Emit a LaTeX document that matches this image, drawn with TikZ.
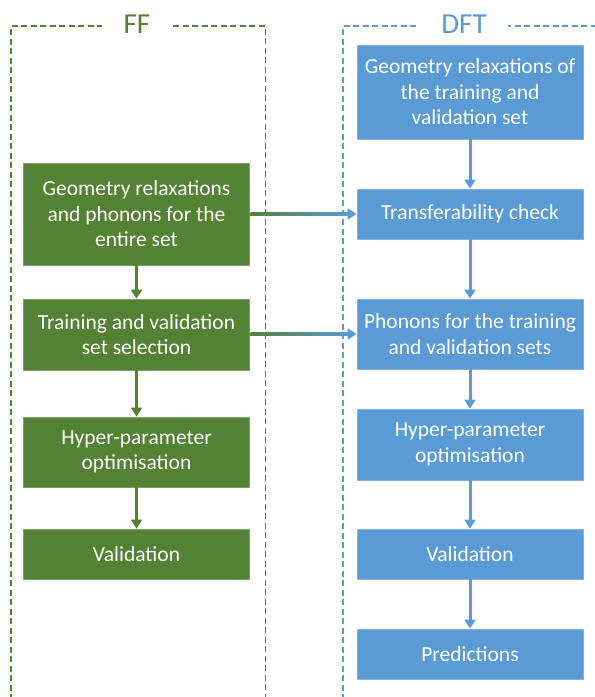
\documentclass[tikz,border=0pt]{standalone}
\usepackage{fontspec}
\setmainfont{Carlito}
\usetikzlibrary{arrows.meta,calc}
\definecolor{ffgreen}{HTML}{548235}
\definecolor{dftblue}{HTML}{5B9BD5}
\tikzset{
  box/.style={minimum width=226pt, inner sep=0pt, text=white, align=center,
    font=\fontsize{21.5}{25.5}\selectfont, line width=0.8pt},
  gbox/.style={box, fill=ffgreen, draw=ffgreen!75!white},
  bbox/.style={box, fill=dftblue, draw=dftblue!75!white},
  frame/.style={line width=1.4pt, dash pattern=on 6pt off 3.5pt},
  garrow/.style={ffgreen, line width=3pt, -{Triangle[length=9pt,width=11pt]}},
  barrow/.style={dftblue, line width=3pt, -{Triangle[length=9pt,width=11pt]}},
  title/.style={fill=white, inner sep=0pt, minimum height=20pt, font=\fontsize{29}{30}\selectfont}
}
\begin{document}
\begin{tikzpicture}[x=1pt,y=-1pt]
\useasboundingbox (0,0) rectangle (595,697);
% frames
\draw[frame, ffgreen] (11,700) -- (11,26) -- (265.5,26) -- (265.5,700);
\draw[frame, dftblue] (343,700) -- (343,26) -- (600,26);
\node[title, text=ffgreen, minimum width=70pt] (ff) at (137,24) {FF};
\node[title, text=dftblue, minimum width=88pt] (dft) at (464,24) {DFT};
% green boxes
\node[gbox, minimum height=102pt] (g1) at (136.5,214) {Geometry relaxations\\and phonons for the\\entire set};
\node[gbox, minimum height=71pt] (g2) at (136.5,334.5) {Training and validation\\set selection};
\node[gbox, minimum height=70pt] (g3) at (136.5,452) {Hyper-parameter\\optimisation};
\node[gbox, minimum height=50pt] (g4) at (136.5,554) {Validation};
% blue boxes
\node[bbox, minimum height=94pt] (b1) at (470,92) {Geometry relaxations of\\the training and\\validation set};
\node[bbox, minimum height=50pt] (b2) at (470,214) {Transferability check};
\node[bbox, minimum height=70pt] (b3) at (470,334) {Phonons for the training\\and validation sets};
\node[bbox, minimum height=71pt] (b4) at (470,444.5) {Hyper-parameter\\optimisation};
\node[bbox, minimum height=50pt] (b5) at (470,554) {Validation};
\node[bbox, minimum height=50pt] (b6) at (470,654) {Predictions};
% vertical arrows
\draw[garrow] (g1) -- (g2);
\draw[garrow] (g2) -- (g3);
\draw[garrow] (g3) -- (g4);
\draw[barrow] (b1) -- (b2);
\draw[barrow] (b2) -- (b3);
\draw[barrow] (b3) -- (b4);
\draw[barrow] (b4) -- (b5);
\draw[barrow] (b5) -- (b6);
% horizontal gradient arrows
\draw[barrow] (g1.east) -- (b2.west);
\shade[left color=ffgreen, right color=dftblue] ($(g1.east)+(0.4,-1.5)$) rectangle ($(b2.west)+(-8.5,1.5)$);
\draw[barrow] (g2.east |- b3.west) -- (b3.west);
\shade[left color=ffgreen, right color=dftblue] ($(g2.east |- b3.west)+(0.4,-1.5)$) rectangle ($(b3.west)+(-8.5,1.5)$);
\end{tikzpicture}
\end{document}
